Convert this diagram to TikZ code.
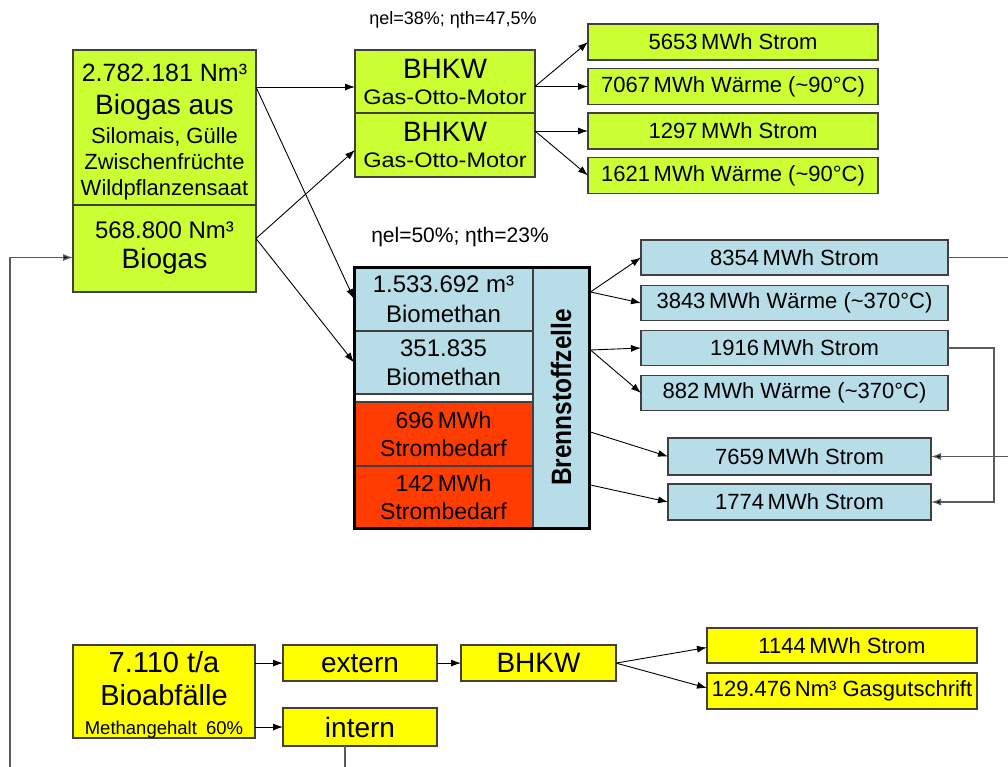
\documentclass[tikz,border=0pt]{standalone}
\usepackage{fontspec}
\setmainfont{Liberation Sans}
\newfontfamily\widefont[FakeStretch=1.12]{Liberation Sans}
\newfontfamily\condfont[FakeStretch=0.875]{Liberation Sans}
\usetikzlibrary{arrows.meta, positioning, fit, calc}
\definecolor{gasgreen}{RGB}{204, 255, 51}
\definecolor{cellblue}{RGB}{183, 221, 232}
\definecolor{needred}{RGB}{255, 60, 0}
\definecolor{wasteyellow}{RGB}{255, 255, 0}
\definecolor{framegray}{RGB}{64, 64, 64}
\definecolor{loopgray}{RGB}{90, 90, 90}

\begin{document}
\begin{tikzpicture}[
    x=1pt, y=-1pt,
    box/.style={
        rectangle,
        draw=framegray,
        line width=1.2pt,
        inner sep=0pt,
        outer sep=0pt,
        align=center,
        font=\fontsize{22}{26}\selectfont
    },
    gasbox/.style={box, fill=gasgreen},
    cellbox/.style={box, fill=cellblue},
    needbox/.style={box, fill=needred},
    wastebox/.style={box, fill=wasteyellow},
    line/.style={draw, line width=0.9pt, -{Latex[length=10pt, width=7pt]}},
    loop/.style={draw=loopgray, line width=1.3pt, -{Latex[length=10pt, width=7pt, fill=black]}}
]
    \path[clip, use as bounding box] (0,0) rectangle (1008,767);

    % Biogas
    \node [gasbox, minimum width=183pt, minimum height=155pt] (src1) at (164.5,127.5)
        {\mbox{}\\{\fontsize{25}{26}\selectfont 2.782.181 Nm³}\\[7pt]{\fontsize{28}{26}\selectfont Biogas aus}\\[3pt]Silomais, Gülle\\Zwischenfrüchte\\Wildpflanzensaat};
    \node [gasbox, minimum width=183pt, minimum height=87pt, below=0pt of src1] (src2)
        {{\fontsize{24}{26}\selectfont 568.800 Nm³}\\[4pt]{\fontsize{28}{26}\selectfont Biogas}};

    % BHKW
    \node [font=\fontsize{18}{20}\selectfont] (eta1) at (453,20) {ηel=38\%; ηth=47,5\%};
    \node [gasbox, minimum width=180pt, minimum height=63pt] (bhkw1) at (445,81.5)
        {{\fontsize{28}{26}\selectfont BHKW}\\{\widefont\fontsize{21}{26}\selectfont Gas-Otto-Motor}};
    \node [gasbox, minimum width=180pt, minimum height=64pt, below=0pt of bhkw1] (bhkw2)
        {{\fontsize{28}{26}\selectfont BHKW}\\{\widefont\fontsize{21}{26}\selectfont Gas-Otto-Motor}};

    \node [gasbox, minimum width=290pt, minimum height=36pt] (g1) at (733,42) {5653\,MWh Strom};
    \node [gasbox, minimum width=290pt, minimum height=36pt, below=8.5pt of g1] (g2) {7067\,MWh Wärme (\textasciitilde 90°C)};
    \node [gasbox, minimum width=290pt, minimum height=36pt, below=8.5pt of g2] (g3) {1297\,MWh Strom};
    \node [gasbox, minimum width=290pt, minimum height=36pt, below=8.5pt of g3] (g4) {1621\,MWh Wärme (\textasciitilde 90°C)};

    % Brennstoffzelle
    \node [font=\fontsize{21}{24}\selectfont] (eta2) at (460,237) {ηel=50\%; ηth=23\%};
    \node [cellbox, minimum width=179pt, minimum height=64pt, font=\fontsize{24}{30}\selectfont] (bm1) at (443.5,299)
        {1.533.692 m³\\Biomethan};
    \node [cellbox, minimum width=179pt, minimum height=63pt, font=\fontsize{24}{29}\selectfont, below=0pt of bm1] (bm2)
        {351.835\\Biomethan};
    \node [needbox, minimum width=179pt, minimum height=64pt, font=\fontsize{23}{28}\selectfont, below=8pt of bm2] (need1)
        {696\,MWh\\Strombedarf};
    \node [needbox, minimum width=179pt, minimum height=62pt, font=\fontsize{23}{28}\selectfont, below=0pt of need1] (need2)
        {142\,MWh\\Strombedarf};
    \node [cellbox, rotate=90, minimum width=261pt, minimum height=56pt, font=\condfont\fontsize{28}{30}\selectfont\bfseries] (fc) at (561,397.5)
        {Brennstoffzelle};
    \node [draw=black, line width=3pt, inner sep=0pt, fit=(bm1)(need2)(fc)] (fcframe) {};

    \node [cellbox, minimum width=307pt, minimum height=35pt] (o8354) at (794.5,257.5) {8354\,MWh Strom};
    \node [cellbox, minimum width=307pt, minimum height=35pt, below=10.5pt of o8354] (o3843) {3843\,MWh Wärme (\textasciitilde 370°C)};
    \node [cellbox, minimum width=307pt, minimum height=35pt, below=10pt of o3843] (o1916) {1916\,MWh Strom};
    \node [cellbox, minimum width=307pt, minimum height=35pt, below=10pt of o1916] (o882) {882\,MWh Wärme (\textasciitilde 370°C)};
    \node [cellbox, minimum width=263pt, minimum height=37pt] (o7659) at (799.5,456.5) {7659\,MWh Strom};
    \node [cellbox, minimum width=263pt, minimum height=36pt, below=9pt of o7659] (o1774) {1774\,MWh Strom};

    % Bioabfaelle
    \node [wastebox, minimum width=182pt, minimum height=89pt, font=\fontsize{29}{33}\selectfont] (bio) at (164,691.5)
        {\mbox{}\\[-6pt]7.110 t/a\\Bioabfälle\\[-4pt]{\fontsize{18.5}{20}\selectfont Methangehalt\hspace{0.5em}60\%}};
    \node [wastebox, minimum width=154pt, minimum height=36pt, font=\fontsize{28}{30}\selectfont, anchor=north west] (ext)
        at ([xshift=28pt]bio.north east) {extern};
    \node [wastebox, minimum width=154pt, minimum height=38pt, font=\fontsize{28}{30}\selectfont] (int) at (360,727) {intern};
    \node [wastebox, minimum width=155pt, minimum height=36pt, font=\fontsize{28}{30}\selectfont, right=24pt of ext] (bhkw3) {BHKW};
    \node [wastebox, minimum width=270pt, minimum height=35pt] (s1144) at (842,645.5) {1144\,MWh Strom};
    \node [wastebox, minimum width=270pt, minimum height=36pt, below=10pt of s1144] (gas) {129.476\,Nm³ Gasgutschrift};

    % Verbindungen
    \coordinate (srcA) at ([yshift=-37pt]src1.north east);
    \coordinate (srcB) at ([yshift=10pt]src2.east);
    \path [line] (srcA) -- (srcA -| bhkw1.west);
    \path [line] (srcA) -- (bm1.west);
    \path [line] (srcB) -- ([yshift=-5pt]bhkw2.west);
    \path [line] (srcB) -- (bm2.west);

    \path [line] (bhkw1.east |- g2.west) -- (g1.west);
    \path [line] (bhkw1.east |- g2.west) -- (g2.west);
    \path [line] (bhkw2.east |- g3.west) -- (g3.west);
    \path [line] (bhkw2.east |- g3.west) -- (g4.west);

    \path [line] ([yshift=105.5pt]fcframe.east) -- (o8354.west);
    \path [line] ([yshift=105.5pt]fcframe.east) -- (o3843.west);
    \path [line] ([yshift=47.5pt]fcframe.east) -- (o1916.west);
    \path [line] ([yshift=47.5pt]fcframe.east) -- (o882.west);
    \path [line] ([yshift=-34.5pt]fcframe.east) -- (o7659.west);
    \path [line] ([yshift=-87.5pt]fcframe.east) -- (o1774.west);

    \path [line] (bio.east |- ext.west) -- (ext.west);
    \path [line] (bio.east |- int.west) -- (int.west);
    \path [line] (ext) -- (bhkw3);
    \path [line] (bhkw3.east) -- ([yshift=-2pt]s1144.west);
    \path [line] (bhkw3.east) -- ([yshift=3pt]gas.west);

    % Rueckfuehrungen
    \path [loop] (o8354.east) -- ++(90,0) |- (o7659.east);
    \path [loop] (o1916.east) -- ++(46,0) |- (o1774.east);
    \path [loop] ([xshift=-15pt]int.south) -- ++(0,44) -| ([xshift=-63pt,yshift=-9pt]src2.west) -- ([yshift=-9pt]src2.west);

\end{tikzpicture}
\end{document}
